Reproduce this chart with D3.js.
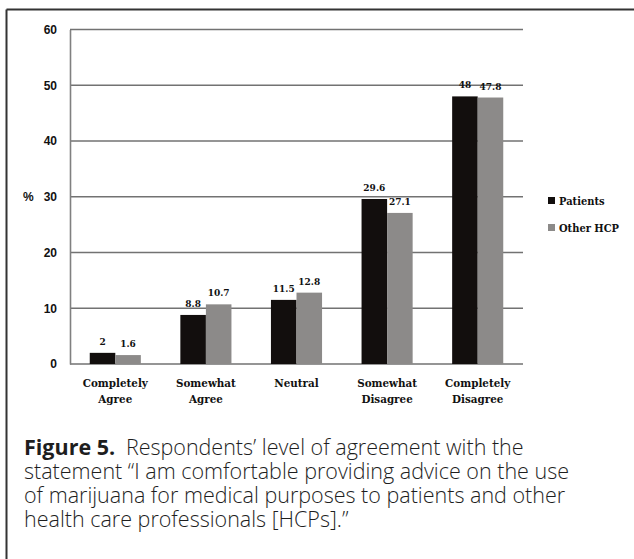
<!DOCTYPE html>
<html>
<head>
<meta charset="utf-8">
<script src="https://cdn.jsdelivr.net/npm/d3@7"></script>
<style>
  html, body { margin: 0; padding: 0; background: #fff; }
  svg { display: block; }
</style>
</head>
<body>
<svg id="chart" width="634" height="559"></svg>
<script>
// Survey responses: share of respondents (%) per level of agreement
const categories = [
  ["Completely", "Agree"],
  ["Somewhat", "Agree"],
  ["Neutral"],
  ["Somewhat", "Disagree"],
  ["Completely", "Disagree"]
];
const seriesNames = ["Patients", "Other HCP"];
const patients = [2, 8.8, 11.5, 29.6, 48];
const otherHCP = [1.6, 10.7, 12.8, 27.1, 47.8];
const yTicks = [0, 10, 20, 30, 40, 50, 60];
const captionLines = [
  [{ t: "Figure 5.", b: true }, { t: "\u2002Respondents\u2019 level of agreement with the" }],
  [{ t: "statement \u201CI am comfortable providing advice on the use" }],
  [{ t: "of marijuana for medical purposes to patients and other" }],
  [{ t: "health care professionals [HCPs].\u201D" }]
];

const colors = { "Patients": "#120e0d", "Other HCP": "#8c8a89" };
const values = { "Patients": patients, "Other HCP": otherHCP };

const svg = d3.select("#chart");
const serif = "'DejaVu Serif Condensed', 'DejaVu Serif', serif";
const sans = "'Liberation Sans', Arial, sans-serif";

// frame
svg.append("line").attr("x1", 6.5).attr("x2", 634).attr("y1", 9.5).attr("y2", 9.5)
  .attr("stroke", "#333").attr("stroke-width", 2);
svg.append("line").attr("x1", 6.5).attr("x2", 6.5).attr("y1", 9.5).attr("y2", 559)
  .attr("stroke", "#333").attr("stroke-width", 2);

const plot = { left: 70, right: 523, top: 29.5, bottom: 364 };

const y = d3.scaleLinear().domain([0, 60]).range([plot.bottom, plot.top]);
const x0 = d3.scaleBand().domain(d3.range(categories.length))
  .range([plot.left, plot.right]).padding(0);
const barW = x0.step() * 0.282;
const x1 = d3.scaleBand().domain(seriesNames)
  .range([x0.step() / 2 - barW, x0.step() / 2 + barW]).padding(0);

// horizontal gridlines
svg.append("g").selectAll("line").data(yTicks).join("line")
  .attr("x1", plot.left).attr("x2", plot.right)
  .attr("y1", d => y(d)).attr("y2", d => y(d))
  .attr("stroke", "#727272").attr("stroke-width", 1.4);

// y axis
const yAxis = svg.append("g")
  .attr("transform", `translate(${plot.left},0)`)
  .call(d3.axisLeft(y).tickValues(yTicks).tickSize(0).tickPadding(13));
yAxis.select(".domain").attr("stroke", "#808080").attr("stroke-width", 1.6);
yAxis.selectAll("text")
  .attr("font-family", sans).attr("font-weight", "bold").attr("font-size", 12)
  .attr("fill", "#111");

svg.append("text").attr("x", 23).attr("y", y(30)).attr("dy", "0.32em")
  .attr("font-family", sans).attr("font-weight", "bold").attr("font-size", 12)
  .attr("fill", "#111").text("%");

// bars
const groups = svg.append("g").selectAll("g").data(categories).join("g")
  .attr("transform", (d, i) => `translate(${x0(i)},0)`);

groups.each(function (cat, i) {
  const g = d3.select(this);
  seriesNames.forEach(name => {
    const v = values[name][i];
    g.append("rect")
      .attr("x", x1(name)).attr("width", x1.bandwidth())
      .attr("y", y(v)).attr("height", y(0) - y(v))
      .attr("fill", colors[name]);
    g.append("text")
      .attr("x", x1(name) + x1.bandwidth() / 2)
      .attr("y", y(v) - 8)
      .attr("text-anchor", "middle")
      .attr("font-family", serif).attr("font-weight", "bold").attr("font-size", 10)
      .attr("fill", "#111")
      .text(v);
  });
  // category label
  const lbl = g.append("text")
    .attr("x", x0.step() / 2).attr("y", 387)
    .attr("text-anchor", "middle")
    .attr("font-family", serif).attr("font-weight", "bold").attr("font-size", 11.5)
    .attr("fill", "#111");
  cat.forEach((line, k) => {
    lbl.append("tspan").attr("x", x0.step() / 2).attr("dy", k === 0 ? 0 : 16).text(line);
  });
});

// legend
const legend = svg.append("g").selectAll("g").data(seriesNames).join("g")
  .attr("transform", (d, i) => `translate(548,${197 + i * 27})`);
legend.append("rect").attr("width", 7).attr("height", 7).attr("fill", d => colors[d]);
legend.append("text").attr("x", 11).attr("y", 8)
  .attr("font-family", serif).attr("font-weight", "bold").attr("font-size", 11)
  .attr("fill", "#111").text(d => d);

// caption
const cap = svg.append("text")
  .attr("font-family", "'Open Sans', 'Noto Sans', sans-serif").attr("font-size", 21.5)
  .attr("fill", "#1e1e1e");
captionLines.forEach((parts, k) => {
  parts.forEach((p, j) => {
    const ts = cap.append("tspan").text(p.t)
      .attr("font-weight", p.b ? 700 : 300);
    if (j === 0) ts.attr("x", 24).attr("y", 455 + k * 24);
  });
});
</script>
</body>
</html>
